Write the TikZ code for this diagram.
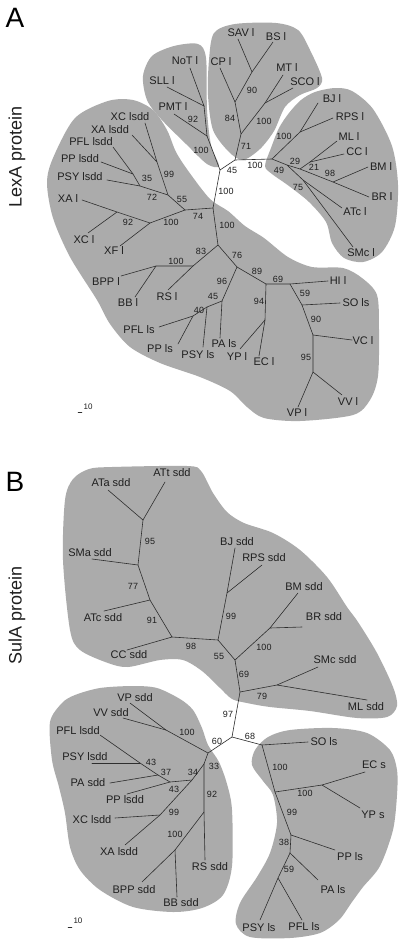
\documentclass[tikz,border=0pt]{standalone}
\usepackage{fontspec}
\setmainfont{Liberation Sans}
\definecolor{TREEgray}{HTML}{ABABAB}
\definecolor{TREEline}{HTML}{2E2E2E}
\definecolor{TREEtext}{HTML}{1F1F1F}
\tikzset{
  clade/.style={fill=TREEgray, draw=none},
  branch/.style={draw=TREEline, line width=0.6pt, line cap=round},
  taxon/.style={inner sep=0pt, text=TREEtext, font=\fontsize{11}{12}\selectfont},
  boot/.style={inner sep=0pt, text=TREEtext, font=\fontsize{9}{10}\selectfont},
  panellabel/.style={inner sep=0pt, text=black, font=\fontsize{28}{30}\selectfont},
  protlabel/.style={inner sep=0pt, rotate=90, text=TREEtext, font=\fontsize{18}{20}\selectfont},
  scaletext/.style={inner sep=0pt, text=TREEtext, font=\fontsize{8}{9}\selectfont}
}
\begin{document}
\begin{tikzpicture}[x=1pt, y=-1pt]
  \fill[white] (0,0) rectangle (400,945);
  \useasboundingbox (0,0) rectangle (400,945);
  % panel A
  \fill[clade] plot[smooth cycle, tension=0.5] coordinates {(143,76) (152,56) (174,46) (198,44) (206,58) (207,110) (211,145) (219,166) (207,164) (186,144) (161,119) (147,100)};
  \fill[clade] plot[smooth cycle, tension=0.5] coordinates {(209,60) (214,33) (235,24) (276,23) (298,30) (310,50) (322,78) (317,88) (300,95) (285,107) (274,131) (260,149) (243,160) (229,152) (213,130) (208,95)};
  \fill[clade] plot[smooth cycle, tension=0.5] coordinates {(265,166) (271,148) (279,128) (289,113) (301,100) (315,92) (335,88) (352,91) (373,109) (392,146) (398,185) (395,226) (382,252) (363,262) (344,258) (332,243) (326,222) (309,202) (289,186) (272,174)};
  \fill[clade] plot[smooth cycle, tension=0.5] coordinates {(47,183) (53,158) (75,118) (108,101) (133,100) (153,110) (167,130) (176,152) (189,172) (210,199) (228,211) (245,226) (264,238) (288,257) (312,267) (343,268) (362,278) (377,295) (379,330) (378,376) (370,400) (353,415) (300,421) (264,418) (247,407) (230,391) (200,377) (160,363) (130,347) (110,324) (97,300) (70,257) (53,218)};
  \node[panellabel] (pA) at (15,18) {A};
  \node[protlabel] (protA) at (17,157) {LexA protein};

  \coordinate (aL1) at (204,106); \coordinate (aL2) at (207,136); \coordinate (aP) at (220,170); \coordinate (aS) at (235,160);
  \coordinate (aU71) at (241,134); \coordinate (aCP) at (235,102); \coordinate (aSB) at (252,72); \coordinate (aMS) at (265,103);
  \coordinate (aR0) at (272,159); \coordinate (aBJ) at (300,132); \coordinate (aR1) at (287,165); \coordinate (aR2) at (300,169);
  \coordinate (aR3) at (310,162); \coordinate (aBM) at (333,182); \coordinate (aAT) at (303,180);
  \coordinate (aQ) at (213,208); \coordinate (aN74) at (185,210); \coordinate (aN55) at (168,195); \coordinate (aN99) at (157,162);
  \coordinate (aN72) at (140,186); \coordinate (aN35) at (133,174); \coordinate (aNXF) at (150,223); \coordinate (aNXA) at (117,212);
  \coordinate (aNc) at (218,245); \coordinate (aN83) at (193,266); \coordinate (aNBB) at (156,266); \coordinate (aN76) at (237,267);
  \coordinate (aX1) at (222,301); \coordinate (aX2) at (207,307); \coordinate (aN40) at (193,316); \coordinate (aN89) at (266,284);
  \coordinate (aN94) at (265,320); \coordinate (aN69) at (290,284); \coordinate (aNSO) at (302,305); \coordinate (aN90) at (313,335);
  \coordinate (aN95) at (313,372);

  \coordinate (tNoT) at (190,68); \coordinate (tSLL) at (167,87); \coordinate (tPMT) at (174,114); \coordinate (tSAV) at (238,39);
  \coordinate (tBS) at (273,42); \coordinate (tCP) at (220,68); \coordinate (tMT) at (283,75); \coordinate (tSCO) at (293,88);
  \coordinate (tBJ) at (318,103); \coordinate (tRPS) at (333,118); \coordinate (tML) at (337,141); \coordinate (tCC) at (344,154);
  \coordinate (tBM) at (368,167); \coordinate (tBR) at (369,197); \coordinate (tATc) at (342,208); \coordinate (tSMc) at (353,247);
  \coordinate (tHI) at (328,281); \coordinate (tSO) at (340,303); \coordinate (tVC) at (352,340); \coordinate (tVV) at (342,395);
  \coordinate (tVP) at (298,407); \coordinate (tEC) at (259,356); \coordinate (tYP) at (240,349); \coordinate (tPAls) at (220,338);
  \coordinate (tPSYls) at (203,347); \coordinate (tPPls) at (178,344); \coordinate (tPFLls) at (159,327); \coordinate (tRS) at (168,290);
  \coordinate (tBPP) at (121,276); \coordinate (tBB) at (135,297); \coordinate (tXF) at (120,246); \coordinate (tXA) at (82,200);
  \coordinate (tXC) at (88,233); \coordinate (tPSYlsdd) at (107,180); \coordinate (tPPlsdd) at (101,162); \coordinate (tPFLlsdd) at (113,147);
  \coordinate (tXAlsdd) at (132,135); \coordinate (tXClsdd) at (145,123);

  \draw[branch] (tNoT) -- (aL1) -- (tSLL); \draw[branch] (aL1) -- (aL2) -- (tPMT);
  \draw[branch] (aL2) -- (aP) -- (aS) -- (aU71) -- (aCP) -- (tCP);
  \draw[branch] (aCP) -- (aSB) -- (tSAV); \draw[branch] (aSB) -- (tBS);
  \draw[branch] (aU71) -- (aMS) -- (tMT); \draw[branch] (aMS) -- (tSCO);
  \draw[branch] (aS) -- (aR0) -- (aBJ) -- (tBJ); \draw[branch] (aBJ) -- (tRPS);
  \draw[branch] (aR0) -- (aR1) -- (aR2) -- (aBM) -- (tBR); \draw[branch] (aBM) -- (tBM);
  \draw[branch] (aR2) -- (aR3) -- (tML); \draw[branch] (aR3) -- (tCC);
  \draw[branch] (aR1) -- (aAT) -- (tATc); \draw[branch] (aAT) -- (tSMc);
  \draw[branch] (aP) -- (aQ) -- (aN74) -- (aN55) -- (aN99) -- (tXClsdd); \draw[branch] (aN99) -- (tXAlsdd);
  \draw[branch] (aN55) -- (aN72) -- (tPSYlsdd); \draw[branch] (aN72) -- (aN35) -- (tPPlsdd); \draw[branch] (aN35) -- (tPFLlsdd);
  \draw[branch] (aN74) -- (aNXF) -- (tXF); \draw[branch] (aNXF) -- (aNXA) -- (tXA); \draw[branch] (aNXA) -- (tXC);
  \draw[branch] (aQ) -- (aNc) -- (aN83) -- (tRS); \draw[branch] (aN83) -- (aNBB) -- (tBPP); \draw[branch] (aNBB) -- (tBB);
  \draw[branch] (aNc) -- (aN76) -- (aX1) -- (tPAls); \draw[branch] (aX1) -- (aX2) -- (tPSYls);
  \draw[branch] (aX2) -- (aN40) -- (tPFLls); \draw[branch] (aN40) -- (tPPls);
  \draw[branch] (aN76) -- (aN89) -- (aN94) -- (tEC); \draw[branch] (aN94) -- (tYP);
  \draw[branch] (aN89) -- (aN69) -- (tHI); \draw[branch] (aN69) -- (aNSO) -- (tSO);
  \draw[branch] (aNSO) -- (aN90) -- (tVC); \draw[branch] (aN90) -- (aN95) -- (tVP); \draw[branch] (aN95) -- (tVV);

  \node[taxon] (NoT) at (185,61) {NoT l}; \node[taxon] (SLL) at (162,81) {SLL l}; \node[taxon] (PMT) at (173,107) {PMT l};
  \node[taxon] (SAV) at (241,33) {SAV l}; \node[taxon] (BS) at (276,37) {BS l}; \node[taxon] (CP) at (221,62) {CP l};
  \node[taxon] (MT) at (287,68) {MT l}; \node[taxon] (SCO) at (305,82) {SCO l}; \node[taxon] (BJ) at (332,99) {BJ l};
  \node[taxon] (RPS) at (350,117) {RPS l}; \node[taxon] (ML) at (349,137) {ML l}; \node[taxon] (CC) at (357,152) {CC l};
  \node[taxon] (BM) at (381,167) {BM l}; \node[taxon] (BR) at (382,197) {BR l}; \node[taxon] (ATc) at (355,212) {ATc l};
  \node[taxon] (SMc) at (361,253) {SMc l}; \node[taxon] (HI) at (338,281) {HI l}; \node[taxon] (SO) at (356,303) {SO ls};
  \node[taxon] (VC) at (363,341) {VC l}; \node[taxon] (VV) at (348,402) {VV l}; \node[taxon] (VP) at (297,413) {VP l};
  \node[taxon] (EC) at (264,362) {EC l}; \node[taxon] (YP) at (237,357) {YP l}; \node[taxon] (PAls) at (224,344) {PA ls};
  \node[taxon] (PSYls) at (198,355) {PSY ls}; \node[taxon] (PPls) at (160,349) {PP ls}; \node[taxon] (PFLls) at (139,330) {PFL ls};
  \node[taxon] (RS) at (167,297) {RS l}; \node[taxon] (BPP) at (106,282) {BPP l}; \node[taxon] (BB) at (128,303) {BB l};
  \node[taxon] (XF) at (114,251) {XF l}; \node[taxon] (XA) at (68,199) {XA l}; \node[taxon] (XC) at (84,240) {XC l};
  \node[taxon] (PSYlsdd) at (80,177) {PSY lsdd}; \node[taxon] (PPlsdd) at (80,159) {PP lsdd};
  \node[taxon] (PFLlsdd) at (91,142) {PFL lsdd}; \node[taxon] (XAlsdd) at (110,130) {XA lsdd}; \node[taxon] (XClsdd) at (130,117) {XC lsdd};

  \node[boot] (sa01) at (193,119) {92}; \node[boot] (sa02) at (201,150) {100}; \node[boot] (sa03) at (232,170) {45};
  \node[boot] (sa04) at (252,90) {90}; \node[boot] (sa05) at (230,118) {84}; \node[boot] (sa06) at (264,121) {100};
  \node[boot] (sa07) at (246,146) {71}; \node[boot] (sa08) at (284,136) {100}; \node[boot] (sa09) at (255,165) {100};
  \node[boot] (sa10) at (279,170) {49}; \node[boot] (sa11) at (295,161) {29}; \node[boot] (sa12) at (314,167) {21};
  \node[boot] (sa13) at (330,173) {98}; \node[boot] (sa14) at (298,187) {75}; \node[boot] (sa15) at (226,191) {100};
  \node[boot] (sa16) at (227,225) {100}; \node[boot] (sa17) at (198,216) {74}; \node[boot] (sa18) at (182,199) {55};
  \node[boot] (sa19) at (169,174) {99}; \node[boot] (sa20) at (152,197) {72}; \node[boot] (sa21) at (147,178) {35};
  \node[boot] (sa22) at (171,222) {100}; \node[boot] (sa23) at (128,222) {92}; \node[boot] (sa24) at (201,251) {83};
  \node[boot] (sa25) at (176,261) {100}; \node[boot] (sa26) at (237,255) {76}; \node[boot] (sa27) at (222,281) {96};
  \node[boot] (sa28) at (213,296) {45}; \node[boot] (sa29) at (199,310) {40}; \node[boot] (sa30) at (257,271) {89};
  \node[boot] (sa31) at (259,301) {94}; \node[boot] (sa32) at (278,279) {69}; \node[boot] (sa33) at (305,293) {59};
  \node[boot] (sa34) at (316,319) {90}; \node[boot] (sa35) at (306,357) {95};

  \coordinate (scA1) at (78,412); \coordinate (scA2) at (82,412);
  \draw[branch, line width=0.4pt] (scA1) -- (scA2);
  \node[scaletext] (scA) at (88,407) {10};

  % panel B
  \fill[clade] plot[smooth cycle, tension=0.5] coordinates {(63,560) (65,500) (73,479) (89,469) (112,467) (187,466) (201,471) (213,493) (227,512) (244,523) (273,533) (300,550) (327,577) (347,607) (358,622) (377,653) (393,687) (397,706) (387,717) (357,718) (310,711) (270,707) (247,703) (232,699) (219,687) (202,671) (183,660) (160,660) (128,667) (108,663) (80,650) (70,630)};
  \fill[clade] plot[smooth cycle, tension=0.5] coordinates {(52,760) (50,722) (62,703) (75,695) (100,688) (133,686) (157,688) (180,699) (193,710) (202,728) (208,745) (219,762) (227,784) (232,810) (232,866) (223,895) (202,908) (173,912) (133,907) (100,890) (80,870) (70,847) (65,813) (59,787)};
  \fill[clade] plot[smooth cycle, tension=0.5] coordinates {(252,765) (255,750) (268,737) (290,730) (333,728) (367,733) (390,750) (397,770) (397,795) (393,830) (380,866) (363,887) (352,902) (339,920) (320,933) (290,938) (250,937) (236,924) (240,903) (257,877) (270,853) (277,823) (273,795) (263,781)};
  \node[panellabel] (pB) at (15,482) {B};
  \node[protlabel] (protB) at (17,615) {SulA protein};

  \coordinate (bN95) at (143,520); \coordinate (bN77) at (138,565); \coordinate (bN91) at (150,600); \coordinate (bN98) at (172,637);
  \coordinate (bN55) at (218,640); \coordinate (bN99) at (227,593); \coordinate (bBR) at (270,628); \coordinate (bC1) at (235,660);
  \coordinate (bC2) at (240,692); \coordinate (bSM) at (277,685); \coordinate (bRoot) at (232,737); \coordinate (bN68) at (262,745);
  \coordinate (bE) at (275,792); \coordinate (bEC) at (322,785); \coordinate (bF) at (291,835); \coordinate (bG) at (290,853);
  \coordinate (bH) at (278,878); \coordinate (bN60) at (208,753); \coordinate (bVV) at (166,730); \coordinate (bN33) at (204,764);
  \coordinate (bN34) at (192,780); \coordinate (bN43b) at (170,782); \coordinate (bN37) at (158,775); \coordinate (bN43a) at (140,763);
  \coordinate (bNX) at (160,815); \coordinate (bN92) at (204,812); \coordinate (bNBB) at (175,850);

  \coordinate (uATa) at (108,490); \coordinate (uATt) at (165,482); \coordinate (uSMa) at (92,559); \coordinate (uATc) at (104,611);
  \coordinate (uCC) at (127,650); \coordinate (uBJ) at (235,548); \coordinate (uRPS) at (262,565); \coordinate (uBM) at (298,593);
  \coordinate (uBR) at (302,627); \coordinate (uSMc) at (318,667); \coordinate (uML) at (367,700); \coordinate (uSO) at (308,742);
  \coordinate (uEC) at (365,772); \coordinate (uYP) at (360,808); \coordinate (uPP) at (335,850); \coordinate (uPA) at (318,880);
  \coordinate (uPSY) at (260,920); \coordinate (uPFL) at (302,920); \coordinate (uVP) at (130,703); \coordinate (uVV) at (123,718);
  \coordinate (uPFLlsdd) at (100,735); \coordinate (uPSYlsdd) at (92,763); \coordinate (uPAsdd) at (110,783); \coordinate (uPPlsdd) at (127,794);
  \coordinate (uXClsdd) at (115,818); \coordinate (uXAlsdd) at (125,845); \coordinate (uBPP) at (142,882); \coordinate (uBB) at (177,897);
  \coordinate (uRS) at (205,860);

  \draw[branch] (uATa) -- (bN95) -- (uATt); \draw[branch] (bN95) -- (bN77) -- (uSMa);
  \draw[branch] (bN77) -- (bN91) -- (uATc); \draw[branch] (bN91) -- (bN98) -- (uCC);
  \draw[branch] (bN98) -- (bN55) -- (bN99) -- (uBJ); \draw[branch] (bN99) -- (uRPS);
  \draw[branch] (bN55) -- (bC1) -- (bBR) -- (uBM); \draw[branch] (bBR) -- (uBR);
  \draw[branch] (bC1) -- (bC2) -- (bSM) -- (uML); \draw[branch] (bSM) -- (uSMc);
  \draw[branch] (bC2) -- (bRoot) -- (bN68) -- (uSO);
  \draw[branch] (bN68) -- (bE) -- (bEC) -- (uEC); \draw[branch] (bEC) -- (uYP);
  \draw[branch] (bE) -- (bF) -- (uPP); \draw[branch] (bF) -- (bG) -- (uPA);
  \draw[branch] (bG) -- (bH) -- (uPSY); \draw[branch] (bH) -- (uPFL);
  \draw[branch] (bRoot) -- (bN60) -- (bVV) -- (uVP); \draw[branch] (bVV) -- (uVV);
  \draw[branch] (bN60) -- (bN33) -- (bN34) -- (bN43b) -- (bN37) -- (bN43a) -- (uPFLlsdd);
  \draw[branch] (bN43a) -- (uPSYlsdd); \draw[branch] (bN37) -- (uPAsdd); \draw[branch] (bN43b) -- (uPPlsdd);
  \draw[branch] (bN34) -- (bNX) -- (uXClsdd); \draw[branch] (bNX) -- (uXAlsdd);
  \draw[branch] (bN33) -- (bN92) -- (uRS); \draw[branch] (bN92) -- (bNBB) -- (uBPP); \draw[branch] (bNBB) -- (uBB);

  \node[taxon] (ATa) at (111,483) {ATa sdd}; \node[taxon] (ATt) at (172,473) {ATt sdd}; \node[taxon] (SMa) at (90,553) {SMa sdd};
  \node[taxon] (ATcB) at (103,618) {ATc sdd}; \node[taxon] (CCB) at (129,655) {CC sdd}; \node[taxon] (BJB) at (237,542) {BJ sdd};
  \node[taxon] (RPSB) at (264,558) {RPS sdd}; \node[taxon] (BMB) at (304,587) {BM sdd}; \node[taxon] (BRB) at (324,617) {BR sdd};
  \node[taxon] (SMcB) at (335,660) {SMc sdd}; \node[taxon] (MLB) at (366,707) {ML sdd}; \node[taxon] (SOB) at (324,742) {SO ls};
  \node[taxon] (ECB) at (374,765) {EC s}; \node[taxon] (YPB) at (373,815) {YP s}; \node[taxon] (PPB) at (350,857) {PP ls};
  \node[taxon] (PAB) at (333,890) {PA ls}; \node[taxon] (PSYB) at (259,928) {PSY ls}; \node[taxon] (PFLB) at (304,927) {PFL ls};
  \node[taxon] (VPB) at (135,698) {VP sdd}; \node[taxon] (VVB) at (111,713) {VV sdd}; \node[taxon] (PFLlsddB) at (78,731) {PFL lsdd};
  \node[taxon] (PSYlsddB) at (85,757) {PSY lsdd}; \node[taxon] (PAsddB) at (88,783) {PA sdd}; \node[taxon] (PPlsddB) at (125,800) {PP lsdd};
  \node[taxon] (XClsddB) at (92,820) {XC lsdd}; \node[taxon] (XAlsddB) at (119,852) {XA lsdd}; \node[taxon] (BPPB) at (134,890) {BPP sdd};
  \node[taxon] (BBB) at (181,903) {BB sdd}; \node[taxon] (RSB) at (210,867) {RS sdd};

  \node[boot] (sb01) at (150,541) {95}; \node[boot] (sb02) at (133,586) {77}; \node[boot] (sb03) at (152,620) {91};
  \node[boot] (sb04) at (191,646) {98}; \node[boot] (sb05) at (231,616) {99}; \node[boot] (sb06) at (219,656) {55};
  \node[boot] (sb07) at (264,647) {100}; \node[boot] (sb08) at (244,674) {69}; \node[boot] (sb09) at (262,696) {79};
  \node[boot] (sb10) at (228,714) {97}; \node[boot] (sb11) at (217,741) {60}; \node[boot] (sb12) at (250,736) {68};
  \node[boot] (sb13) at (280,767) {100}; \node[boot] (sb14) at (305,793) {100}; \node[boot] (sb15) at (292,812) {99};
  \node[boot] (sb16) at (284,842) {38}; \node[boot] (sb17) at (289,869) {59}; \node[boot] (sb18) at (187,732) {100};
  \node[boot] (sb19) at (151,762) {43}; \node[boot] (sb20) at (166,772) {37}; \node[boot] (sb21) at (193,772) {34};
  \node[boot] (sb22) at (174,789) {43}; \node[boot] (sb23) at (214,766) {33}; \node[boot] (sb24) at (174,812) {99};
  \node[boot] (sb25) at (175,834) {100}; \node[boot] (sb26) at (212,794) {92};

  \coordinate (scB1) at (68,927); \coordinate (scB2) at (72,927);
  \draw[branch, line width=0.4pt] (scB1) -- (scB2);
  \node[scaletext] (scB) at (78,921) {10};
\end{tikzpicture}
\end{document}
